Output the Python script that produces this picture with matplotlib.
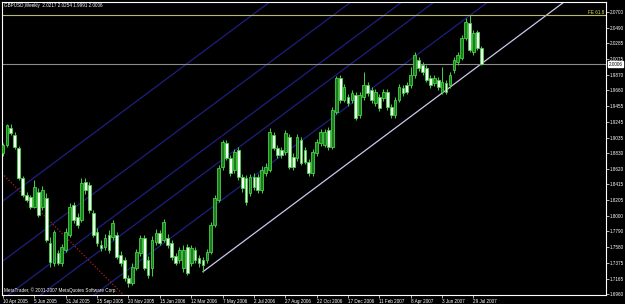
import numpy as np
import matplotlib.pyplot as plt
from matplotlib.transforms import blended_transform_factory

plt.rcParams["font.family"] = ["Liberation Sans", "DejaVu Sans"]

# weekly GBPUSD bars, 10 Apr 2005 .. 12 Aug 2007
opens = [1.8830, 1.8936, 1.9161, 1.9069, 1.8896, 1.8498, 1.8273, 1.8246, 1.8114, 1.8313,
         1.8114, 1.8233, 1.7636, 1.7371, 1.7504, 1.7371, 1.7543, 1.7742, 1.8140, 1.7981,
         1.7941, 1.8445, 1.8406, 1.8034, 1.7782, 1.7610, 1.7583, 1.7742, 1.7716, 1.7742,
         1.7477, 1.7411, 1.7172, 1.7106, 1.7305, 1.7504, 1.7703, 1.7411, 1.7305, 1.7650,
         1.7769, 1.7676, 1.7703, 1.7636, 1.7464, 1.7411, 1.7305, 1.7583, 1.7371, 1.7543,
         1.7437, 1.7411, 1.7411, 1.7517, 1.7875, 1.8207, 1.8644, 1.8963, 1.8764, 1.8604,
         1.8870, 1.8512, 1.8498, 1.8299, 1.8512, 1.8512, 1.8339, 1.8565, 1.8604, 1.9069,
         1.8896, 1.8870, 1.8843, 1.9042, 1.8777, 1.8764, 1.9002, 1.8870, 1.8711, 1.8565,
         1.8830, 1.8963, 1.8936, 1.9135, 1.8909, 1.9374, 1.9825, 1.9533, 1.9573, 1.9533,
         1.9599, 1.9334, 1.9573, 1.9732, 1.9665, 1.9493, 1.9573, 1.9559, 1.9639, 1.9440,
         1.9334, 1.9533, 1.9692, 1.9732, 1.9732, 1.9864, 2.0063, 1.9997, 1.9957, 1.9825,
         1.9758, 1.9798, 1.9639, 1.9758, 1.9732, 1.9931, 2.0037, 2.0090, 2.0355, 2.0554,
         2.0169, 2.0435, 2.0217]
highs = [1.8963, 1.9215, 1.9215, 1.9108, 1.8923, 1.8525, 1.8313, 1.8273, 1.8472, 1.8366,
         1.8392, 1.8299, 1.7716, 1.7809, 1.7543, 1.7623, 1.7835, 1.8167, 1.8180, 1.8034,
         1.8498, 1.8498, 1.8445, 1.8074, 1.7835, 1.7676, 1.7756, 1.7809, 1.7941, 1.7782,
         1.7530, 1.7451, 1.7212, 1.7371, 1.7557, 1.7742, 1.7742, 1.7464, 1.7729, 1.7822,
         1.7809, 1.7955, 1.7756, 1.7676, 1.7504, 1.7583, 1.7610, 1.7623, 1.7610, 1.7583,
         1.7477, 1.7451, 1.7557, 1.7915, 1.8273, 1.8671, 1.9002, 1.9002, 1.8803, 1.8883,
         1.8909, 1.8551, 1.8538, 1.8551, 1.8565, 1.8551, 1.8658, 1.8697, 1.9161, 1.9108,
         1.8936, 1.8909, 1.9135, 1.9082, 1.8830, 1.9082, 1.9042, 1.8909, 1.8750, 1.8883,
         1.9016, 1.9148, 1.9148, 1.9175, 1.9440, 1.9851, 1.9864, 1.9745, 1.9612, 1.9665,
         1.9639, 1.9639, 1.9904, 1.9772, 1.9705, 1.9679, 1.9612, 1.9679, 1.9679, 1.9480,
         1.9573, 1.9745, 1.9732, 1.9772, 1.9970, 2.0169, 2.0103, 2.0037, 1.9997, 1.9864,
         1.9864, 1.9838, 1.9970, 1.9798, 1.9904, 2.0103, 2.0169, 2.0395, 2.0620, 2.0660,
         2.0461, 2.0461, 2.0254]
lows = [1.8790, 1.8909, 1.9069, 1.8883, 1.8472, 1.8246, 1.8180, 1.8087, 1.8101, 1.7981,
        1.8074, 1.7650, 1.7318, 1.7331, 1.7345, 1.7331, 1.7517, 1.7716, 1.7902, 1.7835,
        1.7915, 1.8286, 1.8034, 1.7716, 1.7597, 1.7530, 1.7543, 1.7504, 1.7676, 1.7424,
        1.7331, 1.7132, 1.7053, 1.7079, 1.7278, 1.7464, 1.7278, 1.7172, 1.7199, 1.7610,
        1.7610, 1.7650, 1.7570, 1.7411, 1.7345, 1.7371, 1.7252, 1.7212, 1.7331, 1.7371,
        1.7318, 1.7252, 1.7371, 1.7490, 1.7849, 1.8180, 1.8604, 1.8737, 1.8525, 1.8565,
        1.8472, 1.8313, 1.8140, 1.8260, 1.8339, 1.8299, 1.8299, 1.8525, 1.8578, 1.8870,
        1.8764, 1.8764, 1.8803, 1.8618, 1.8604, 1.8724, 1.8671, 1.8684, 1.8525, 1.8525,
        1.8790, 1.8923, 1.8909, 1.8870, 1.8883, 1.9347, 1.9493, 1.9506, 1.9453, 1.9493,
        1.9268, 1.9294, 1.9533, 1.9586, 1.9493, 1.9453, 1.9387, 1.9520, 1.9400, 1.9294,
        1.9294, 1.9506, 1.9586, 1.9612, 1.9692, 1.9825, 1.9917, 1.9864, 1.9772, 1.9692,
        1.9718, 1.9665, 1.9612, 1.9612, 1.9692, 1.9891, 1.9997, 2.0063, 2.0329, 2.0169,
        2.0130, 2.0196, 1.9991]
closes = [1.8936, 1.9201, 1.9095, 1.8909, 1.8498, 1.8273, 1.8207, 1.8114, 1.8379, 1.8008,
          1.8339, 1.7676, 1.7384, 1.7782, 1.7371, 1.7583, 1.7782, 1.8114, 1.7941, 1.7875,
          1.8432, 1.8339, 1.8074, 1.7742, 1.7636, 1.7570, 1.7703, 1.7543, 1.7902, 1.7451,
          1.7371, 1.7172, 1.7106, 1.7318, 1.7517, 1.7703, 1.7305, 1.7212, 1.7676, 1.7769,
          1.7636, 1.7915, 1.7610, 1.7451, 1.7371, 1.7543, 1.7543, 1.7239, 1.7570, 1.7411,
          1.7371, 1.7345, 1.7517, 1.7875, 1.8233, 1.8631, 1.8976, 1.8764, 1.8565, 1.8843,
          1.8512, 1.8366, 1.8180, 1.8512, 1.8379, 1.8339, 1.8604, 1.8644, 1.9108, 1.8896,
          1.8803, 1.8803, 1.9095, 1.8644, 1.8644, 1.9042, 1.8697, 1.8711, 1.8565, 1.8843,
          1.8976, 1.9108, 1.9108, 1.8909, 1.9400, 1.9825, 1.9533, 1.9705, 1.9493, 1.9626,
          1.9294, 1.9599, 1.9732, 1.9626, 1.9533, 1.9639, 1.9427, 1.9639, 1.9440, 1.9334,
          1.9533, 1.9705, 1.9626, 1.9639, 1.9864, 2.0130, 1.9957, 1.9904, 1.9798, 1.9732,
          1.9825, 1.9705, 1.9772, 1.9639, 1.9864, 2.0063, 2.0130, 2.0355, 2.0567, 2.0196,
          2.0421, 2.0222, 2.0006]

date_labels = ["10 Apr 2005", "5 Jun 2005", "31 Jul 2005", "25 Sep 2005", "20 Nov 2005",
               "15 Jan 2006", "12 Mar 2006", "7 May 2006", "2 Jul 2006", "27 Aug 2006",
               "22 Oct 2006", "17 Dec 2006", "11 Feb 2007", "8 Apr 2007", "3 Jun 2007",
               "29 Jul 2007"]
price_ticks = [2.0700, 2.0490, 2.0285, 2.0075, 1.9870, 1.9660, 1.9455, 1.9245, 1.9035,
               1.8830, 1.8620, 1.8415, 1.8205, 1.8000, 1.7790, 1.7580, 1.7375, 1.7165, 1.6960]

# trendline (start bar -> where it leaves the top), channel lines, fibo base line
trend_bars = [51, 143.1]
trend_prices = [1.7256, 2.0832]
channel_lines = [[(0, 1.8196), (68, 2.0831)],
                 [(0, 1.7400), (80, 2.0494)],
                 [(0, 1.6896), (90, 2.0378)],
                 [(0, 1.6578), (100, 2.0447)],
                 [(20, 1.6822), (110, 2.0303)]]
base_line = [(0, 1.8546), (30, 1.6986)]
fe_level = 2.0660
bid = 2.0006
header = "GBPUSD,Weekly  2.0217 2.0254 1.9991 2.0006"

fig = plt.figure(figsize=(6.25, 3.04), dpi=100, facecolor="black")
ax = fig.add_axes([2 / 625, 9 / 304, 604 / 625, 293 / 304], facecolor="black")

idx = np.arange(len(opens))
o = np.array(opens)
c = np.array(closes)
up = c >= o

green = "#44d444"
for line in channel_lines:
    ax.axline(line[0], line[1], color="#1e1e82", lw=0.9, zorder=1)
ax.plot(trend_bars, trend_prices, color="#c8c8f0", lw=0.9, zorder=1)
ax.axline(base_line[0], base_line[1], color="#b02020", lw=0.9, ls=(0, (1, 1.5)), zorder=1)
ax.axhline(fe_level, color="#b8b870", lw=0.8, zorder=1)
ax.axhline(bid, color="#8c8c8c", lw=0.8, zorder=1)

ax.vlines(idx, lows, highs, color=green, lw=0.7, zorder=2)
ax.bar(idx[up], (c - o)[up], bottom=o[up], width=0.7, color="#1f7a1f",
       edgecolor=green, lw=0.6, zorder=3)
ax.bar(idx[~up], (o - c)[~up], bottom=c[~up], width=0.7, color="#f4fff4",
       edgecolor=green, lw=0.6, zorder=3)

ax.set_xlim(-0.26, 153.8)
ax.set_ylim(1.6947, 2.0832)

ax.set_xticks(np.arange(0, 8 * len(date_labels), 8))
ax.set_xticklabels(date_labels, ha="left")
ax.yaxis.tick_right()
ax.set_yticks(price_ticks)
ax.set_yticklabels([f"{p:.4f}" for p in price_ticks])
ax.tick_params(colors="white", labelsize=3.3, length=2, width=0.5, pad=1)
for s in ax.spines.values():
    s.set_color("white")
    s.set_linewidth(0.8)

ax.text(0.004, 0.995, header, transform=ax.transAxes, color="white",
        fontsize=3.3, va="top", ha="left")
ax.text(0.003, 0.008, "MetaTrader, \u00a9 2001-2007 MetaQuotes Software Corp.",
        transform=ax.transAxes, color="white", fontsize=3.3, va="bottom", ha="left")
ax.text(0.997, fe_level, "FE 61.8", color="#e8e840", fontsize=3.3,
        ha="right", va="bottom", transform=blended_transform_factory(ax.transAxes, ax.transData))
ax.text(1.004, bid, f"{bid:.4f}", color="black", fontsize=3.3, ha="left", va="center",
        transform=blended_transform_factory(ax.transAxes, ax.transData),
        bbox=dict(boxstyle="square,pad=0.15", fc="white", ec="white"), zorder=5, clip_on=False)

fig.savefig("out.png", dpi=100, facecolor="black")
